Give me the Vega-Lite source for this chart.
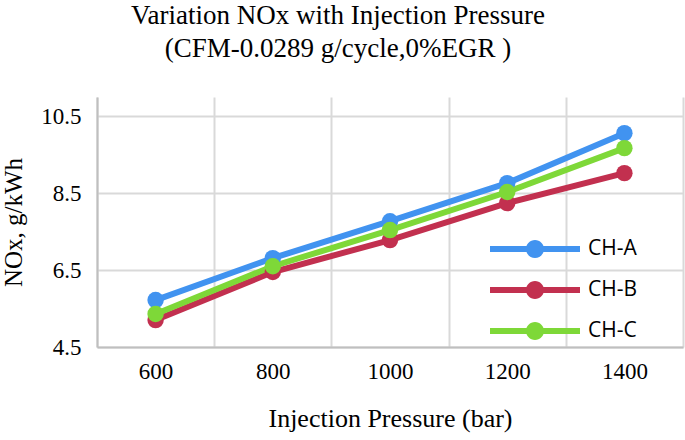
{
  "$schema": "https://vega.github.io/schema/vega-lite/v6.json",
  "autosize": {"type": "none"},
  "padding": {"left": 97, "top": 97, "right": 2, "bottom": 93},
  "width": 586,
  "height": 250,
  "background": "white",
  "title": {
    "text": ["Variation NOx with Injection Pressure", "(CFM-0.0289 g/cycle,0%EGR )"],
    "font": "Liberation Serif",
    "fontSize": 27,
    "fontWeight": "normal",
    "color": "#000000",
    "anchor": "middle",
    "dx": -52,
    "offset": 34,
    "lineHeight": 33
  },
  "data": {
    "values": [
      {"pressure": "600", "series": "CH-A", "nox": 5.72},
      {"pressure": "800", "series": "CH-A", "nox": 6.81},
      {"pressure": "1000", "series": "CH-A", "nox": 7.77},
      {"pressure": "1200", "series": "CH-A", "nox": 8.76},
      {"pressure": "1400", "series": "CH-A", "nox": 10.06},
      {"pressure": "600", "series": "CH-B", "nox": 5.2},
      {"pressure": "800", "series": "CH-B", "nox": 6.45},
      {"pressure": "1000", "series": "CH-B", "nox": 7.28},
      {"pressure": "1200", "series": "CH-B", "nox": 8.24},
      {"pressure": "1400", "series": "CH-B", "nox": 9.02},
      {"pressure": "600", "series": "CH-C", "nox": 5.36},
      {"pressure": "800", "series": "CH-C", "nox": 6.6},
      {"pressure": "1000", "series": "CH-C", "nox": 7.54},
      {"pressure": "1200", "series": "CH-C", "nox": 8.53},
      {"pressure": "1400", "series": "CH-C", "nox": 9.67}
    ]
  },
  "encoding": {
    "x": {
      "field": "pressure",
      "type": "ordinal",
      "sort": ["600", "800", "1000", "1200", "1400"],
      "scale": {"type": "band", "paddingInner": 0, "paddingOuter": 0},
      "axis": {
        "title": "Injection Pressure (bar)",
        "labelAngle": 0,
        "tickBand": "extent",
        "grid": true,
        "gridColor": "#d9d9d9",
        "gridWidth": 2,
        "ticks": false,
        "domainColor": "#bfbfbf",
        "domainWidth": 2,
        "labelFont": "Liberation Serif",
        "labelFontSize": 23,
        "labelColor": "#000000",
        "labelPadding": 13,
        "titleFont": "Liberation Serif",
        "titleFontSize": 26,
        "titleFontWeight": "normal",
        "titleColor": "#000000",
        "titlePadding": 22
      }
    },
    "y": {
      "field": "nox",
      "type": "quantitative",
      "scale": {"domain": [4.5, 11], "nice": false, "zero": false},
      "axis": {
        "title": "NOx, g/kWh",
        "values": [4.5, 6.5, 8.5, 10.5],
        "format": ".1f",
        "grid": true,
        "gridColor": "#d9d9d9",
        "gridWidth": 2,
        "ticks": false,
        "domainColor": "#bfbfbf",
        "domainWidth": 2,
        "labelFont": "Liberation Serif",
        "labelFontSize": 23,
        "labelColor": "#000000",
        "labelPadding": 16,
        "titleFont": "Liberation Serif",
        "titleFontSize": 25,
        "titleFontWeight": "normal",
        "titleColor": "#000000",
        "titlePadding": 14
      }
    },
    "color": {
      "field": "series",
      "type": "nominal",
      "scale": {"domain": ["CH-A", "CH-B", "CH-C"], "range": ["#4193F0", "#C2304F", "#7ED838"]},
      "legend": {
        "title": null,
        "orient": "none",
        "legendX": 393,
        "legendY": 137,
        "padding": 0,
        "symbolType": "M-1,-0.2 L5,-0.2 L5,0.2 L-1,0.2 Z M1.4,0 A0.6,0.6 0 1,1 2.6,0 A0.6,0.6 0 1,1 1.4,0 Z",
        "symbolSize": 900,
        "symbolStrokeWidth": 0,
        "symbolOpacity": 1,
        "labelOffset": 68,
        "rowPadding": 16,
        "labelFont": "Open Sans",
        "labelFontSize": 21,
        "labelColor": "#000000",
        "encode": {
          "symbols": {"update": {"fill": {"scale": "color", "field": "value"}, "strokeWidth": {"value": 0}}}
        }
      }
    },
    "order": {"field": "series"}
  },
  "layer": [
    {"mark": {"type": "line", "strokeWidth": 6}},
    {"mark": {"type": "point", "filled": true, "size": 270, "opacity": 1}}
  ],
  "config": {"view": {"stroke": null}}
}
